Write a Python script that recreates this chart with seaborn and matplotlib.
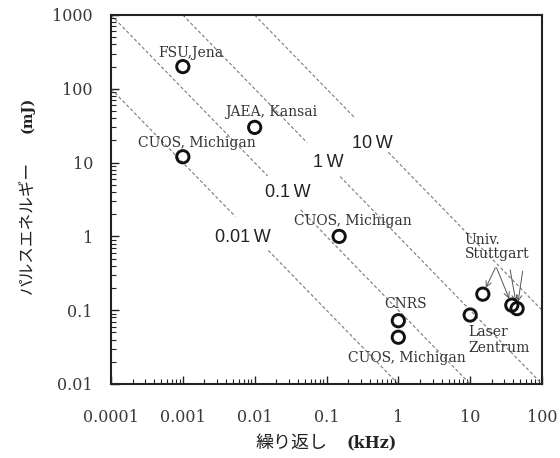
import numpy as np
import pandas as pd
import matplotlib
matplotlib.use("Agg")
import matplotlib.pyplot as plt
import seaborn as sns

# Repetition rate (kHz) and pulse energy (mJ) of each laser system
rep_rate_khz = [0.001, 0.01, 0.001, 0.15, 1, 1, 10, 15, 38, 45]
energy_mj = [200, 30, 12, 1.0, 0.072, 0.043, 0.086, 0.165, 0.117, 0.105]
institutes = ["FSU,Jena", "JAEA, Kansai", "CUOS, Michigan", "CUOS, Michigan",
              "CNRS", "CUOS, Michigan", "Laser\nZentrum",
              "Univ. Stuttgart", "Univ. Stuttgart", "Univ. Stuttgart"]

# Average-power guide lines (W): E[mJ] * f[kHz] = P[W]
powers_w = [0.01, 0.1, 1, 10]
power_labels = ["0.01\u2009W", "0.1\u2009W", "1\u2009W", "10\u2009W"]

x_ticks = [0.0001, 0.001, 0.01, 0.1, 1, 10, 100]
y_ticks = [0.01, 0.1, 1, 10, 100, 1000]

df = pd.DataFrame({"f": rep_rate_khz, "E": energy_mj, "name": institutes})

sns.set_style("ticks")
plt.rcParams["font.family"] = ["DejaVu Serif"]

fig = plt.figure(figsize=(5.6, 4.58), dpi=100)
ax = fig.add_axes([111 / 560, 1 - 384 / 458, 431 / 560, 369 / 458])
ax.set_xscale("log")
ax.set_yscale("log")
ax.set_xlim(1e-4, 100)
ax.set_ylim(0.01, 1000)

# Guide lines, broken where their power label sits
label_pos = {0.01: (0.0069, 0.98), 0.1: (0.029, 3.9), 1: (0.105, 9.9), 10: (0.43, 18.4)}
gap_center = {0.01: -2.04, 0.1: -1.59, 1: -1.04, 10: -0.37}
gap_half = 0.23
for p, lab in zip(powers_w, power_labels):
    c = gap_center[p]
    for lo, hi in [(-4, c - gap_half), (c + gap_half, 2)]:
        fx = np.logspace(lo, hi, 50)
        ey = p / fx
        ax.plot(fx, ey, ls=(0, (3, 2)), lw=0.8, color="#7a7a7a", zorder=1)
    lx, ly = label_pos[p]
    ax.text(lx, ly, lab, ha="center", va="center", fontsize=13,
            family=["Liberation Sans", "DejaVu Sans"], color="#222222", zorder=3)

sns.scatterplot(data=df, x="f", y="E", ax=ax, marker="o", s=78,
                facecolor="none", edgecolor="#111111", linewidth=2.1,
                legend=False, zorder=4)

txt_kw = dict(fontsize=10, color="#333333", textcoords="offset points")
# (offset in points from each point, horizontal alignment)
offsets = [((6, 10), "center"), ((12, 11), "center"), ((10, 10), "center"),
           ((10, 11), "center"), ((5, 12), "center"), ((6, -15), "center"),
           ((-1, -18), "left")]
for i, ((dx, dy), ha) in enumerate(offsets):
    ax.annotate(df["name"][i], (df["f"][i], df["E"][i]), xytext=(dx, dy),
                ha=ha, va="center", linespacing=1.1, **txt_kw)

# Stuttgart: one label with arrows to its three points
ax.annotate("Univ.\nStuttgart", (df["f"][7], df["E"][7]), xytext=(-13, 34),
            ha="left", va="center", linespacing=1.05, **txt_kw)
arrow_targets = [7, 8, 9, 9]
arrow_starts = [(9, 19), (-11, 27), (-5, 28), (4, 27)]
for j, (dx, dy) in zip(arrow_targets, arrow_starts):
    ax.annotate("", (df["f"][j], df["E"][j]), xytext=(dx, dy),
                textcoords="offset points",
                arrowprops=dict(arrowstyle="->", color="#555555", lw=0.7,
                                shrinkA=0, shrinkB=5))

ax.set_xticks(x_ticks)
ax.set_yticks(y_ticks)
ax.xaxis.set_major_formatter(matplotlib.ticker.FuncFormatter(lambda v, _: f"{v:g}"))
ax.yaxis.set_major_formatter(matplotlib.ticker.FuncFormatter(lambda v, _: f"{v:g}"))
ax.tick_params(which="major", direction="in", length=6, width=1.0, colors="#222222",
               labelsize=11.5, labelcolor="#3a3a3a", top=False, right=False)
ax.tick_params(axis="x", which="major", pad=18)
ax.tick_params(axis="y", which="major", pad=13)
ax.tick_params(which="minor", direction="in", length=3.5, width=0.8,
               colors="#222222", top=False, right=False)
for s in ax.spines.values():
    s.set_linewidth(1.5)
    s.set_color("#222222")
ax.set_xlabel("")
ax.set_ylabel("")

# Axis titles: Japanese part plus a bold unit
cjk = ["Noto Sans CJK JP", "DejaVu Sans"]
fig.text(292 / 560, 1 - 443 / 458, "繰り返し", ha="center", va="center",
         fontsize=13, family=cjk, color="#222222")
fig.text(372 / 560, 1 - 443 / 458, "(kHz)", ha="center", va="center",
         fontsize=11.5, fontweight="bold", color="#222222")
fig.text(27 / 560, 1 - 228 / 458, "パルスエネルギー", ha="center", va="center",
         rotation=90, fontsize=12, family=cjk, color="#222222")
fig.text(27 / 560, 1 - 115 / 458, "(mJ)", ha="center", va="center",
         rotation=90, fontsize=10.5, fontweight="bold", color="#222222")

fig.savefig("out.png", dpi=100)
